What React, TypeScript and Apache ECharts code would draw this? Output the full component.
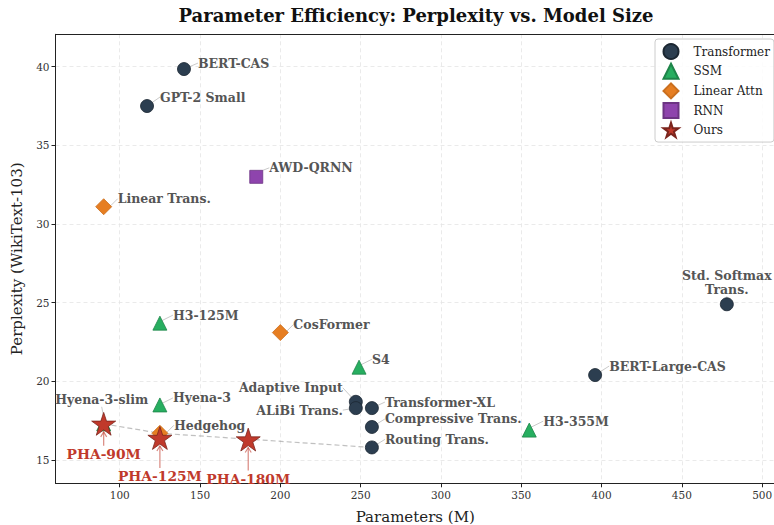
import React, { useEffect, useRef } from 'react';
import * as echarts from 'echarts';

const FONT = "'DejaVu Serif', serif";

// ---- data ----
const transformerNames = ['BERT-CAS', 'GPT-2 Small', 'Std. Softmax Trans.', 'BERT-Large-CAS', 'Adaptive Input', 'ALiBi Trans.', 'Transformer-XL', 'Compressive Trans.', 'Routing Trans.'];
const transformerParams = [140, 117, 478, 396, 247, 247, 257, 257, 257];
const transformerPpl = [39.85, 37.5, 24.9, 20.4, 18.7, 18.3, 18.3, 17.1, 15.8];

const ssmNames = ['H3-125M', 'S4', 'H3-355M', 'Hyena-3', 'Hyena-3-slim'];
const ssmParams = [125, 249, 355, 125, 90];
const ssmPpl = [23.7, 20.9, 16.9, 18.5, 17.3];

const linearNames = ['Linear Trans.', 'CosFormer', 'Hedgehog'];
const linearParams = [90, 200, 125];
const linearPpl = [31.1, 23.1, 16.7];

const rnnNames = ['AWD-QRNN'];
const rnnParams = [185];
const rnnPpl = [33.0];

const oursNames = ['PHA-90M', 'PHA-125M', 'PHA-180M'];
const oursParams = [90, 125, 180];
const oursPpl = [17.3, 16.4, 16.3];

const frontierNames = ['Hyena-3-slim', 'Hedgehog', 'Routing Trans.'];

const categories = ['Transformer', 'SSM', 'Linear Attn', 'RNN', 'Ours'];
const xTitle = 'Parameters (M)';
const yTitle = 'Perplexity (WikiText-103)';
const chartTitle = 'Parameter Efficiency: Perplexity vs. Model Size';

// ---- label placement (pixel offsets from the marker centre) ----
const labelOffsets: Record<string, [number, number, string]> = {
  'BERT-CAS': [14, -6, 'left'],
  'GPT-2 Small': [13, -9, 'left'],
  'Std. Softmax Trans.': [0, -22, 'center'],
  'BERT-Large-CAS': [14, -9, 'left'],
  'Adaptive Input': [-13, -14, 'right'],
  'ALiBi Trans.': [-13, 2, 'right'],
  'Transformer-XL': [13, -6, 'left'],
  'Compressive Trans.': [13, -8, 'left'],
  'Routing Trans.': [13, -8, 'left'],
  'H3-125M': [13, -8, 'left'],
  'S4': [13, -8, 'left'],
  'H3-355M': [14, -9, 'left'],
  'Hyena-3': [13, -7, 'left'],
  'Hyena-3-slim': [-2, -24, 'center'],
  'Linear Trans.': [14, -8, 'left'],
  'CosFormer': [13, -8, 'left'],
  'Hedgehog': [14, -8, 'left'],
  'AWD-QRNN': [13, -9, 'left'],
  'PHA-90M': [0, 30, 'center'],
  'PHA-125M': [0, 38, 'center'],
  'PHA-180M': [0, 39, 'center'],
};
const labelText: Record<string, string> = {
  'Std. Softmax Trans.': 'Std. Softmax\nTrans.',
};

const STAR = 'path://M50,0 L61.2,34.5 L97.6,34.5 L68.2,55.9 L79.4,90.5 L50,69.1 L20.6,90.5 L31.8,55.9 L2.4,34.5 L38.8,34.5 Z';

function makeScatter(
  seriesName: string,
  names: string[],
  xs: number[],
  ys: number[],
  symbol: string,
  size: number,
  color: string,
  border: string,
  ours = false
) {
  return {
    name: seriesName,
    type: 'scatter',
    symbol,
    symbolSize: size,
    symbolKeepAspect: true,
    z: ours ? 5 : 3,
    itemStyle: { color, borderColor: border, borderWidth: 0.8, opacity: 1 },
    data: names.map((n, i) => ({ name: n, value: [xs[i], ys[i]] })),
    label: {
      show: true,
      formatter: (p: any) => labelText[p.name] || p.name,
      fontFamily: FONT,
      fontWeight: 'bold',
      fontSize: ours ? 13.8 : 12.5,
      color: ours ? '#c0392b' : '#555555',
      lineHeight: 14,
    },
    labelLine: {
      show: !ours,
      lineStyle: { color: 'rgba(120,120,120,0.5)', width: 0.8 },
    },
    labelLayout: (params: any) => {
      const n = names[params.dataIndex];
      const off = labelOffsets[n] || [10, 0, 'left'];
      const cx = params.rect.x + params.rect.width / 2;
      const cy = params.rect.y + params.rect.height / 2;
      return { x: cx + off[0], y: cy + off[1], align: off[2], verticalAlign: 'middle' };
    },
    emphasis: { disabled: true },
  };
}

function lookup(name: string): [number, number] {
  const groups: [string[], number[], number[]][] = [
    [transformerNames, transformerParams, transformerPpl],
    [ssmNames, ssmParams, ssmPpl],
    [linearNames, linearParams, linearPpl],
    [rnnNames, rnnParams, rnnPpl],
    [oursNames, oursParams, oursPpl],
  ];
  for (const [ns, xs, ys] of groups) {
    const i = ns.indexOf(name);
    if (i >= 0) return [xs[i], ys[i]];
  }
  return [0, 0];
}

export default function App() {
  const ref = useRef<HTMLDivElement>(null);
  useEffect(() => {
    document.body.style.margin = '0';
    if (!ref.current) return;
    const chart = echarts.init(ref.current, undefined, { renderer: 'svg' });
    const axisFont = { fontFamily: FONT, fontSize: 10.5, color: '#333' };
    const X_MIN = 60;
    const X_MAX = 508;
    chart.setOption({
      animation: false,
      backgroundColor: '#fff',
      grid: { left: 55.5, right: -1, top: 34.3, bottom: 41.7, show: false, outerBoundsMode: 'none', containLabel: false },
      xAxis: [
        {
          type: 'value',
          min: X_MIN,
          max: X_MAX,
          splitNumber: 9,
          axisLine: { show: true, lineStyle: { color: '#222' } },
          axisTick: { show: true, length: 4, lineStyle: { color: '#222' } },
          axisLabel: { ...axisFont, showMinLabel: false, showMaxLabel: false, margin: 6 },
          splitLine: { show: true, lineStyle: { color: '#e4e4e4', type: [4, 3], width: 0.8 } },
          name: xTitle,
          nameLocation: 'middle',
          nameGap: 26,
          nameTextStyle: { fontFamily: FONT, fontSize: 15, color: '#222' },
        },
        {
          type: 'value',
          position: 'top',
          min: X_MIN,
          max: X_MAX,
          splitNumber: 9,
          axisLine: { show: true, onZero: false, lineStyle: { color: '#222' } },
          axisTick: { show: false },
          axisLabel: { show: false },
          splitLine: { show: false },
        },
      ],
      yAxis: {
        type: 'value',
        min: 13.52,
        max: 42.06,
        splitNumber: 6,
        axisLine: { show: true, onZero: false, lineStyle: { color: '#222' } },
        axisTick: { show: true, length: 4, lineStyle: { color: '#222' } },
        axisLabel: { ...axisFont, showMinLabel: false, showMaxLabel: false, margin: 6 },
        splitLine: { show: true, lineStyle: { color: '#e4e4e4', type: [4, 3], width: 0.8 } },
        name: yTitle,
        nameLocation: 'middle',
        nameGap: 31,
        nameTextStyle: { fontFamily: FONT, fontSize: 15, color: '#222' },
      },
      legend: {
        orient: 'vertical',
        left: 655,
        top: 39,
        padding: [4, 4, 4, 7.5],
        itemWidth: 15,
        itemHeight: 15,
        itemGap: 2.7,
        borderColor: '#cccccc',
        borderWidth: 1,
        borderRadius: 3,
        backgroundColor: 'rgba(255,255,255,0.85)',
        textStyle: { fontFamily: FONT, fontSize: 12, color: '#222', padding: [0, 0, 0, 10] },
        data: categories,
      },
      graphic: [
        {
          id: 'title',
          type: 'text',
          x: 416,
          y: 15,
          style: {
            text: chartTitle,
            fontFamily: FONT,
            fontWeight: 'bold',
            fontSize: 18,
            fill: '#111',
            align: 'center',
            verticalAlign: 'middle',
          },
        },
      ],
      series: [
        {
          name: 'frontier',
          type: 'line',
          data: frontierNames.map(lookup),
          symbol: 'none',
          silent: true,
          z: 1,
          lineStyle: { color: 'rgba(150,150,150,0.6)', type: [5, 3], width: 1.2 },
        },
        makeScatter(categories[0], transformerNames, transformerParams, transformerPpl, 'circle', 13, '#2c3e50', '#1b2631'),
        makeScatter(categories[1], ssmNames, ssmParams, ssmPpl, 'triangle', 14, '#27ae60', '#1e8449'),
        makeScatter(categories[2], linearNames, linearParams, linearPpl, 'diamond', 16, '#e67e22', '#ca6f1e'),
        makeScatter(categories[3], rnnNames, rnnParams, rnnPpl, 'rect', 13, '#8e44ad', '#6c3483'),
        makeScatter(categories[4], oursNames, oursParams, oursPpl, STAR, 24, '#c0392b', '#7b241c', true),
      ],
    });
    // arrows from our model labels up to the stars
    const arrows: any[] = [];
    oursNames.forEach((n, i) => {
      const p = chart.convertToPixel({ gridIndex: 0 }, [oursParams[i], oursPpl[i]]) as number[];
      const off = labelOffsets[n];
      const tipY = p[1] + 8;
      const startY = p[1] + off[1] - 8;
      arrows.push({
        id: 'shaft' + i,
        type: 'line',
        z: 10,
        shape: { x1: p[0], y1: startY, x2: p[0], y2: tipY },
        style: { stroke: 'rgba(192,57,43,0.6)', lineWidth: 1.2 },
      });
      arrows.push({
        id: 'head' + i,
        type: 'polyline',
        z: 10,
        shape: { points: [[p[0] - 3, tipY + 5], [p[0], tipY], [p[0] + 3, tipY + 5]] },
        style: { stroke: 'rgba(192,57,43,0.6)', lineWidth: 1.2, fill: 'none' },
      });
    });
    chart.setOption({ graphic: arrows });
    return () => chart.dispose();
  }, []);
  return <div ref={ref} style={{ width: 774, height: 525 }} />;
}
